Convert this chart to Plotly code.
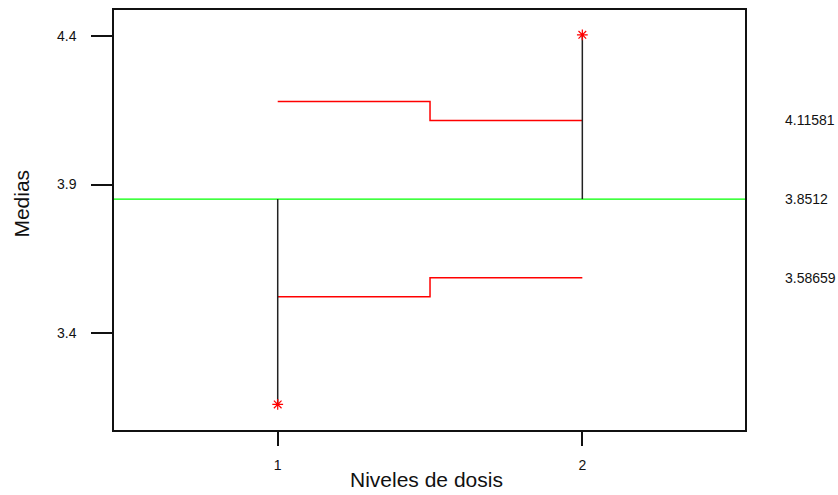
import plotly.graph_objects as go

# Analysis of means for dose levels
levels = [1, 2]
group_means = [3.1606, 4.4035]
grand_mean = 3.8512
upper_limits = [4.1795, 4.11581]
lower_limits = [3.5229, 3.58659]
limit_labels = ["4.11581", "3.8512", "3.58659"]
y_ticks = [3.4, 3.9, 4.4]

FONT = "Liberation Sans, Arial"
INK = "#111111"

fig = go.Figure()

# Decision limits as step lines: each level owns half the interval to its neighbour
def step_xy(limits):
    xs, ys = [], []
    for i, (lv, lim) in enumerate(zip(levels, limits)):
        left = lv if i == 0 else (levels[i - 1] + lv) / 2
        right = lv if i == len(levels) - 1 else (lv + levels[i + 1]) / 2
        xs += [left, right]
        ys += [lim, lim]
    return xs, ys

for lims in (upper_limits, lower_limits):
    xs, ys = step_xy(lims)
    fig.add_trace(go.Scatter(x=xs, y=ys, mode="lines",
                             line=dict(color="#ff0000", width=1.5), hoverinfo="skip"))

# Centre line
fig.add_trace(go.Scatter(x=[0.4626, 2.534], y=[grand_mean, grand_mean], mode="lines",
                         line=dict(color="#00ff00", width=1.2), hoverinfo="skip"))

# Vertical deviation lines from the grand mean to each group mean
for lv, m in zip(levels, group_means):
    fig.add_trace(go.Scatter(x=[lv, lv], y=[grand_mean, m], mode="lines",
                             line=dict(color="#222222", width=1.5), hoverinfo="skip"))

# Group means
fig.add_trace(go.Scatter(x=levels, y=group_means, mode="markers",
                         marker=dict(symbol="asterisk-open", size=9, color="#ff0000",
                                     line=dict(color="#ff0000", width=1.2))))

# Limit labels at the right
for txt, yv in zip(limit_labels, [upper_limits[-1], grand_mean, lower_limits[-1]]):
    fig.add_annotation(text=txt, xref="paper", yref="y", x=1.06, y=yv,
                       xanchor="left", yanchor="middle", showarrow=False,
                       font=dict(family=FONT, size=14, color=INK))

# Axis titles
fig.add_annotation(text="Niveles de dosis", xref="paper", yref="paper",
                   x=(426 - 114) / 631, y=-(479 - 429.5) / 422, xanchor="center",
                   yanchor="middle", showarrow=False,
                   font=dict(family=FONT, size=21, color=INK))
fig.add_annotation(text="Medias", xref="paper", yref="paper",
                   x=-(114 - 22) / 631, y=(429.5 - 202) / 422, xanchor="center",
                   yanchor="middle", textangle=-90, showarrow=False,
                   font=dict(family=FONT, size=21, color=INK))

axis_common = dict(showline=True, linecolor=INK, linewidth=1.5, mirror=True,
                   showgrid=False, zeroline=False, ticks="outside", tickcolor=INK,
                   tickwidth=1.5, tickfont=dict(family=FONT, size=14, color=INK))

fig.update_layout(
    width=838, height=495,
    margin=dict(l=114, r=93, t=8, b=65),
    paper_bgcolor="white", plot_bgcolor="white",
    showlegend=False,
    xaxis=dict(range=[0.4626, 2.534], tickvals=levels, ticktext=["1", "2"], ticklen=14,
               ticklabelstandoff=7, **axis_common),
    yaxis=dict(range=[3.0747, 4.487], tickvals=y_ticks, ticktext=[str(v) for v in y_ticks],
               ticklen=21, ticklabelstandoff=12, **axis_common),
)

fig.write_html("out.html")
